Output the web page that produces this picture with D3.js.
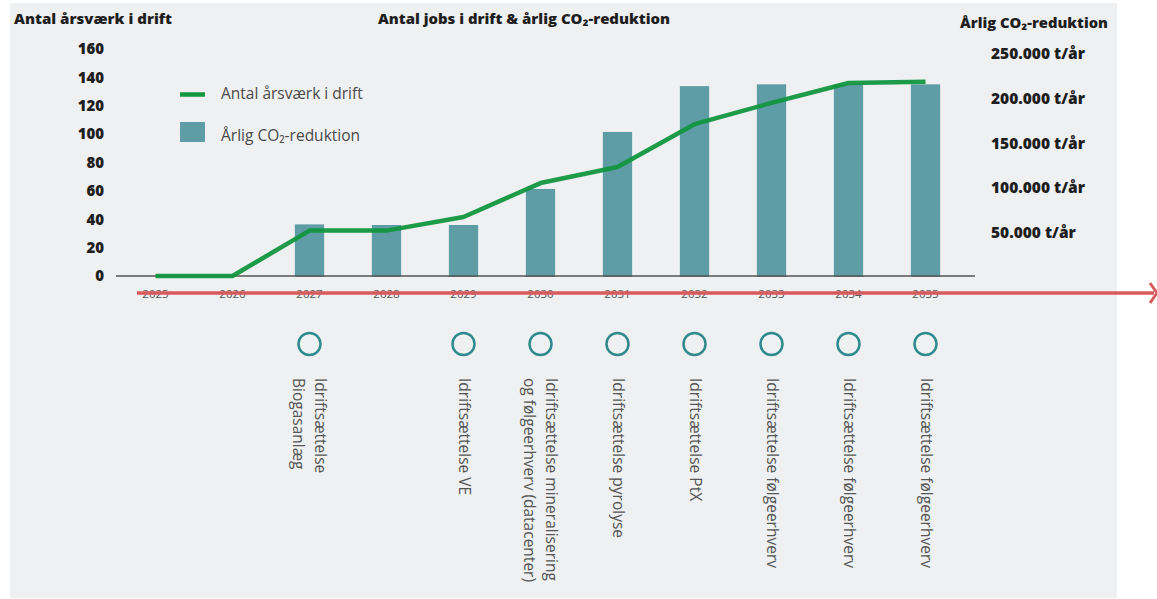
<!DOCTYPE html>
<html><head><meta charset="utf-8">
<script src="https://cdn.jsdelivr.net/npm/d3@7"></script>
<style>
html,body{margin:0;padding:0;background:#fff;}
svg{display:block;}
</style></head>
<body><svg id="c" width="1157" height="599"></svg>
<script>
const years = ["2025","2026","2027","2028","2029","2030","2031","2032","2033","2034","2035"];
const jobs = [0, 0, 32, 32, 41.6, 65.5, 76.8, 107, 122, 136, 137];
const co2 = [0, 0, 59000, 58300, 58300, 98700, 162600, 214000, 216000, 216000, 216000];
const leftTicks = [0, 20, 40, 60, 80, 100, 120, 140, 160];
const rightTicks = [50000, 100000, 150000, 200000, 250000];
const rightTickLabels = ["50.000 t/år","100.000 t/år","150.000 t/år","200.000 t/år","250.000 t/år"];
const milestoneYears = ["2027","2029","2030","2031","2032","2033","2034","2035"];
const milestoneLabels = [
  ["Idriftsættelse","Biogasanlæg"],
  ["Idriftsættelse VE"],
  ["Idriftsættelse mineralisering","og følgeerhverv (datacenter)"],
  ["Idriftsættelse pyrolyse"],
  ["Idriftsættelse PtX"],
  ["Idriftsættelse følgeerhverv"],
  ["Idriftsættelse følgeerhverv"],
  ["Idriftsættelse følgeerhverv"]
];
const titleText = "Antal jobs i drift & årlig CO₂-reduktion";
const leftTitle = "Antal årsværk i drift";
const rightTitle = "Årlig CO₂-reduktion";
const legendLine = "Antal årsværk i drift";
const legendBar = "Årlig CO₂-reduktion";

const svg = d3.select("#c");
const boldFont = "'Open Sans', sans-serif";
const regFont = "'Open Sans', sans-serif";

svg.append("rect").attr("x",10).attr("y",3).attr("width",1107).attr("height",595).attr("fill","#eef0f2");

const x = d3.scaleBand().domain(years).range([117,964]).paddingInner(0.62).paddingOuter(0.31);
const y = d3.scaleLinear().domain([0,160]).range([276,49]);
const y2 = d3.scaleLinear().domain([0,250000]).range([277,54]);
const cx = d => x(d) + x.bandwidth()/2;

function boldText(sel, size){
  return sel.attr("font-family",boldFont).attr("font-weight",800).attr("font-size",size).attr("fill","#1e1e1e");
}
// titles
boldText(svg.append("text").attr("x",14).attr("y",24).text(leftTitle),14.5)
  .attr("textLength",158).attr("lengthAdjust","spacingAndGlyphs");
boldText(svg.append("text").attr("x",378).attr("y",24).text(titleText),14.5)
  .attr("textLength",292).attr("lengthAdjust","spacingAndGlyphs");
boldText(svg.append("text").attr("x",960).attr("y",28).text(rightTitle),14.5)
  .attr("textLength",148).attr("lengthAdjust","spacingAndGlyphs");

// left tick labels
boldText(svg.append("g").selectAll("text").data(leftTicks).join("text")
  .attr("x",104).attr("y",d=>y(d)).attr("dy","0.35em").attr("text-anchor","end")
  .text(d=>d),15);
// right tick labels
boldText(svg.append("g").selectAll("text").data(rightTicks).join("text")
  .attr("x",991).attr("y",d=>y2(d)).attr("dy","0.35em")
  .text((d,i)=>rightTickLabels[i]),15.5);

// bars
svg.append("g").selectAll("rect").data(years.map((yr,i)=>({yr,v:co2[i]})).filter(d=>d.v>0)).join("rect")
  .attr("x",d=>x(d.yr)).attr("width",x.bandwidth())
  .attr("y",d=>y2(d.v)).attr("height",d=>y2(0)-y2(d.v))
  .attr("fill","#5f9da6");

// axis line
svg.append("line").attr("x1",116).attr("x2",975).attr("y1",276).attr("y2",276)
  .attr("stroke","#555").attr("stroke-width",1.5);

// line
const line = d3.line().x((d,i)=>cx(years[i])).y(d=>y(d));
svg.append("path").datum(jobs).attr("d",line).attr("fill","none")
  .attr("stroke","#12963f").attr("stroke-width",4.5).attr("stroke-linejoin","round").attr("opacity",0.95);

// year labels
svg.append("g").selectAll("text").data(years).join("text")
  .attr("x",d=>cx(d)).attr("y",297.5).attr("text-anchor","middle")
  .attr("font-family",regFont).attr("font-size",11.5).attr("fill","#555").text(d=>d);

// red arrow line
svg.append("line").attr("x1",137).attr("x2",1154).attr("y1",293).attr("y2",293)
  .attr("stroke","#d95a5b").attr("stroke-width",3.5);
svg.append("path").attr("d","M1150,283 L1157,293 L1150,303").attr("fill","none")
  .attr("stroke","#d95a5b").attr("stroke-width",3);

// legend
svg.append("line").attr("x1",180).attr("x2",205).attr("y1",94.5).attr("y2",94.5)
  .attr("stroke","#12963f").attr("stroke-width",4.5);
svg.append("text").attr("x",221).attr("y",99).text(legendLine)
  .attr("font-family",regFont).attr("font-size",15.5).attr("fill","#4a4a4a");
svg.append("rect").attr("x",180).attr("y",122).attr("width",25).attr("height",20).attr("fill","#5f9da6");
svg.append("text").attr("x",221).attr("y",141).text(legendBar)
  .attr("font-family",regFont).attr("font-size",15.5).attr("fill","#4a4a4a");

// milestones
const ms = svg.append("g").selectAll("g").data(milestoneYears.map((yr,i)=>({yr,lines:milestoneLabels[i]}))).join("g");
ms.append("circle").attr("cx",d=>cx(d.yr)).attr("cy",344).attr("r",11)
  .attr("fill","none").attr("stroke","#2e8a8c").attr("stroke-width",2.5);
ms.append("text")
  .attr("transform",d=>{
    const n=d.lines.length;
    const off = n===1 ? -5 : 5;
    return `translate(${cx(d.yr)+off},378) rotate(90)`;
  })
  .attr("font-family",regFont).attr("font-size",15.5).attr("fill","#555")
  .each(function(d){
    const t=d3.select(this);
    d.lines.forEach((l,i)=>{
      t.append("tspan").attr("x",0).attr("dy", i===0 ? "0em" : "1.4em").text(l);
    });
  });
</script>
</body></html>
